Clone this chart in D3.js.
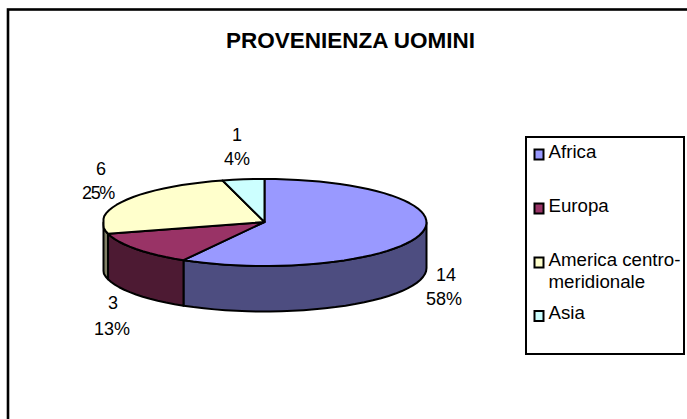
<!DOCTYPE html>
<html><head><meta charset="utf-8">
<script src="https://cdn.jsdelivr.net/npm/d3@7"></script>
<style>html,body{margin:0;padding:0;background:#fff;overflow:hidden}svg{display:block}text{font-family:"Liberation Sans",Arial,sans-serif;fill:#000}</style>
</head><body><div id="c"></div>
<script>
const categories=["Africa","Europa","America centro-meridionale","Asia"];
const values=[14,3,6,1];
const percents=["58%","13%","25%","4%"];
const topColors=["#9999ff","#993366","#ffffcc","#ccffff"];
const sideColors=["#4d4d80","#4d1a33","#808066","#668080"];
const W=687,H=419;
const svg=d3.select("#c").append("svg").attr("width",W).attr("height",H);
svg.append("rect").attr("x",8).attr("y",9.5).attr("width",720).attr("height",460).attr("fill","#fff").attr("stroke","#000").attr("stroke-width",2.6);
svg.append("text").attr("x",350.5).attr("y",48).attr("text-anchor","middle").attr("font-size",22.5).attr("font-weight","bold").text("PROVENIENZA UOMINI");

const cx=264.5,cy=222.5,rx=162,ry=43.5,depth=45.5;
const arcs=d3.pie().sort(null)(values);
const px=a=>Math.max(103.5,Math.min(427,cx+rx*Math.sin(a))), py=a=>cy-ry*Math.cos(a);
const line=d3.line();
const range=(a,b)=>{const n=Math.max(2,Math.ceil(Math.abs(b-a)/(Math.PI/45)));return d3.range(n+1).map(i=>a+(b-a)*i/n)};
const g=svg.append("g").attr("stroke","#000").attr("stroke-width",2).attr("stroke-linejoin","round");
// side walls, visible part of the rim only (front half)
arcs.forEach((d,i)=>{
  const a=Math.max(d.startAngle,Math.PI/2), b=Math.min(d.endAngle,3*Math.PI/2);
  if(b<=a) return;
  const r=range(a,b);
  const pts=r.map(t=>[px(t),py(t)]).concat(r.slice().reverse().map(t=>[px(t),py(t)+depth]));
  g.append("path").attr("d",line(pts)+"Z").attr("fill",sideColors[i]);
});
// top faces
arcs.forEach((d,i)=>{
  const pts=[[cx,cy-0.5]].concat(range(d.startAngle,d.endAngle).map(t=>[px(t),py(t)]));
  g.append("path").attr("d",line(pts)+"Z").attr("fill",topColors[i]);
});
// data labels: value then percentage
const labelAt=[[446,281,444,305],[113,309,112,335],[101,175,98,199],[237,141,237,165]];
values.forEach((v,i)=>{
  const p=labelAt[i];
  const t=svg.append("text").attr("text-anchor","middle").attr("font-size",18);
  t.append("tspan").attr("x",p[0]).attr("y",p[1]).text(v);
  t.append("tspan").attr("x",p[2]).attr("y",p[3]).attr("letter-spacing",i===2?-1.3:0).text(percents[i]);
});
// legend
svg.append("rect").attr("x",526).attr("y",137).attr("width",158).attr("height",217).attr("fill","#fff").attr("stroke","#000").attr("stroke-width",2);
const swatchY=[149.5,203.5,257.5,311];
categories.forEach((c,i)=>{
  svg.append("rect").attr("x",534.5).attr("y",swatchY[i]).attr("width",9).attr("height",10).attr("fill",topColors[i]).attr("stroke","#000").attr("stroke-width",2);
});
const legendLines=[["Africa"],["Europa"],["America centro-","meridionale"],["Asia"]];
const legendBase=[158,212,266,319];
legendLines.forEach((ls,i)=>ls.forEach((s,j)=>{
  svg.append("text").attr("x",548.5).attr("y",legendBase[i]+j*22).attr("font-size",18.7).text(s);
}));
</script></body></html>
